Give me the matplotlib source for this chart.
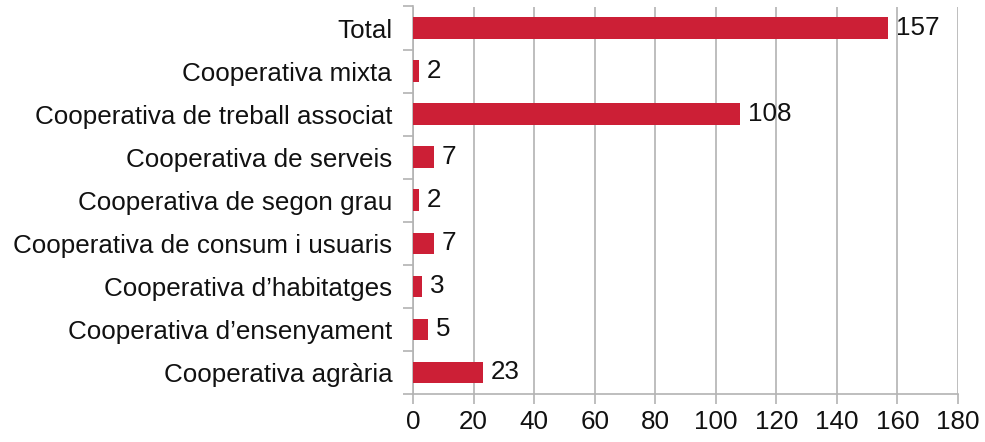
import numpy as np
import matplotlib.pyplot as plt

plt.rcParams['font.family'] = ['Liberation Sans', 'DejaVu Sans']

categories = [
    'Total',
    'Cooperativa mixta',
    'Cooperativa de treball associat',
    'Cooperativa de serveis',
    'Cooperativa de segon grau',
    'Cooperativa de consum i usuaris',
    'Cooperativa d\u2019habitatges',
    'Cooperativa d\u2019ensenyament',
    'Cooperativa agr\u00e0ria',
]
values = [157, 2, 108, 7, 2, 7, 3, 5, 23]
x_ticks = [0, 20, 40, 60, 80, 100, 120, 140, 160, 180]

bar_color = '#cc1f36'
grid_color = '#b3b3b3'
fs = 18.7

fig = plt.figure(figsize=(9.85, 4.42), dpi=100)
ax = fig.add_axes([413 / 985, 1 - 394 / 442, 545 / 985, 387.5 / 442])

y = np.arange(len(categories))
ax.barh(y, values, height=0.5, color=bar_color, zorder=3)
for yi, v in zip(y, values):
    ax.text(v + 2.6, yi, str(v), va='center', ha='left', fontsize=fs, color='#111111')

ax.set_xlim(0, 180)
ax.set_ylim(len(categories) - 0.5, -0.5)
ax.set_xticks(x_ticks)
ax.set_xticklabels([str(t) for t in x_ticks], fontsize=fs, color='#111111')
ax.set_yticks(y)
ax.set_yticklabels(categories, fontsize=fs, color='#111111')
ax.set_yticks(np.arange(-0.5, len(categories)), minor=True)

ax.grid(axis='x', color=grid_color, linewidth=1.2, zorder=0)
for s in ['top', 'right']:
    ax.spines[s].set_visible(False)
for s in ['left', 'bottom']:
    ax.spines[s].set_color(grid_color)
    ax.spines[s].set_linewidth(1.2)

ax.tick_params(axis='y', which='major', length=0, pad=15)
ax.tick_params(axis='y', which='minor', length=7.2, color=grid_color, width=1.2)
ax.tick_params(axis='x', length=7.5, color=grid_color, width=1.2, pad=4)

fig.savefig('out.png', dpi=100)
